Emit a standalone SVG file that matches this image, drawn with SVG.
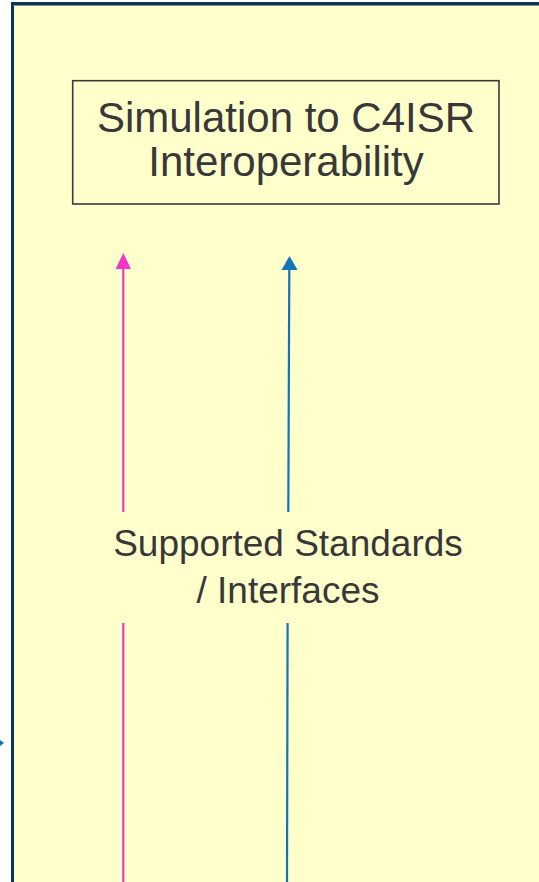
<svg xmlns="http://www.w3.org/2000/svg" width="539" height="882" viewBox="0 0 539 882">
<style>
  .lbl{font-family:"Liberation Sans",Arial,sans-serif;fill:#383838;text-anchor:middle}
  .pink{stroke:#F535C8;stroke-width:2.2;fill:none}
  .blue{stroke:#1274B8;stroke-width:2.2;fill:none}
</style>
<rect width="539" height="882" fill="#ffffff"/>
<g id="panel">
  <rect x="12.5" y="3.5" width="540" height="890" fill="#FFFFCC" stroke="#0E3558" stroke-width="3"/>
  <line x1="14.5" y1="5.5" x2="539" y2="5.5" stroke="#7d8f98" stroke-width="1"/>
</g>
<g id="title">
  <rect x="72.7" y="80.7" width="426.3" height="123.3" fill="none" stroke="#3a3a3a" stroke-width="1.6"/>
  <text class="lbl" x="286" y="132" font-size="42">Simulation to C4ISR</text>
  <text class="lbl" x="286" y="176" font-size="42">Interoperability</text>
</g>
<g id="standards">
  <text class="lbl" x="288" y="556" font-size="37">Supported Standards</text>
  <text class="lbl" x="288" y="603" font-size="37">/ Interfaces</text>
</g>
<g id="connectors">
  <line class="pink" x1="123.3" y1="882" x2="123.3" y2="623"/>
  <line class="pink" x1="123.3" y1="512" x2="123.3" y2="267"/>
  <polygon points="123.3,253 131,269 115.6,269" fill="#F535C8"/>
  <line class="blue" x1="287" y1="882" x2="287.6" y2="623"/>
  <line class="blue" x1="288.3" y1="512" x2="289.3" y2="268"/>
  <polygon points="289.5,256 297.5,270 281.5,270" fill="#1274B8"/>
  <polygon points="0,740 4,743 0,746" fill="#1274B8"/>
</g>
</svg>
